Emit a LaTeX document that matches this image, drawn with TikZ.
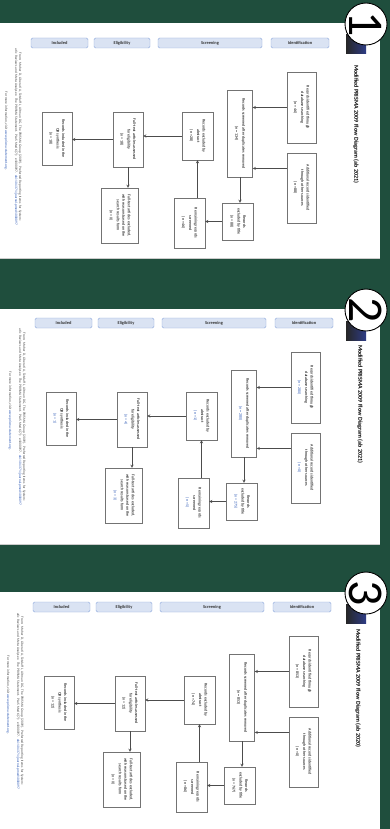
\documentclass[tikz,border=0pt]{standalone}
\usepackage{fontspec}
\setmainfont{Carlito}
\usetikzlibrary{arrows, positioning, calc}
\definecolor{slidegreen}{HTML}{1F4E3D}
\definecolor{phasefill}{HTML}{DAE3F3}
\definecolor{phaseline}{HTML}{8FAADC}
\definecolor{logonavy}{HTML}{2E3C86}
\definecolor{linkblue}{HTML}{2F5BB7}
\tikzstyle{arrow} = [->, >=stealth, line width=0.4pt, draw=black!70]
\tikzstyle{recbox} = [draw=black!55, line width=0.4pt, fill=white, rotate=-90, align=center, inner sep=1pt, font=\fontsize{4}{5.5}\selectfont]
\tikzstyle{phase} = [draw=phaseline, fill=phasefill, rounded corners=1.5pt, line width=0.4pt, minimum height=10, inner sep=0pt, font=\fontsize{4.4}{5}\selectfont\bfseries, text=black!80]
\tikzstyle{badge} = [circle, draw=black, line width=0.9pt, fill=white, minimum size=42, inner sep=0pt]
\tikzstyle{badgenum} = [rotate=-90, inner sep=0pt, font=\fontsize{50}{50}\selectfont]
\tikzstyle{slidetitle} = [rotate=-90, inner sep=0pt, font=\fontsize{6}{7}\selectfont\bfseries]
\tikzstyle{citation} = [rotate=-90, inner sep=0pt, align=center, text=black!70, font=\fontsize{3.5}{4}\selectfont]

\begin{document}
\begin{tikzpicture}[x=1pt, y=-1pt]
        \useasboundingbox (0,0) rectangle (390,829);
        \fill[slidegreen] (0,0) rectangle (390,829);

        % Three slides: white page top/bottom, content shift, badge, year, counts, count colour
        \foreach \wt/\wb/\dx/\dy/\num/\yr/\nA/\nB/\nC/\nD/\nE/\nF/\nG/\nH/\nI/\col in {
          23/258/0/0/1/2021/46/88/134/88/28/46/18/0/18/black,
          309/544/4/280/2/2021/280/0/280/275/1/5/4/3/1/linkblue,
          592/829/2/564/3/2020/853/0/853/767/74/86/12/0/12/black}{
          \fill[white] (0,\wt) rectangle (380,\wb);
          \draw[black!20] (0,\wb) -- (380,\wb);
          \shade[left color=black!85, right color=logonavy] (346,\wt+12) rectangle (366,\wt+31);
          \node[badge] (badge) at (366,\wt+1) {};
          \node[badgenum] at (badge.center) {\num};

          \begin{scope}[shift={(\dx,\dy)}]
            % Title and phases
            \node[slidetitle, anchor=west] (title) at (356,65) {Modified PRISMA 2009 Flow Diagram (ab \yr)};
            \node[phase, minimum width=57] (phIncl) at (59.5,43) {Included};
            \node[phase, minimum width=56] (phElig) at (122,43) {Eligibility};
            \node[phase, minimum width=104] (phScreen) at (210,43) {Screening};
            \node[phase, minimum width=58] (phIdent) at (300,43) {Identification};

            % Records
            \node[recbox, minimum width=71, minimum height=29] (identified) at (301.5,107.5)
              {Records identified through\\database searching\\[1.5pt]{\color{\col}(n = \nA)}};
            \node[recbox, minimum width=70, minimum height=29] (additional) at (301.5,188)
              {Additional records identified\\through other sources\\[1.5pt]{\color{\col}(n = \nB)}};
            \node[recbox, minimum width=87, minimum height=25] (screened) at (240,133.5)
              {Records screened after duplicates removed\\[1.5pt]{\color{\col}(n = \nC)}};
            \node[recbox, minimum width=37, minimum height=31] (extitle) at (238,221.5)
              {Records\\excluded by title\\[1.5pt]{\color{\col}(n = \nD)}};
            \node[recbox, minimum width=48, minimum height=31] (exabstract) at (197.5,136)
              {Records excluded by\\abstract\\[1.5pt]{\color{\col}(n = \nE)}};
            \node[recbox, minimum width=50, minimum height=31] (remaining) at (189.5,223)
              {Remaining records\\screened\\[1.5pt]{\color{\col}(n = \nF)}};
            \node[recbox, minimum width=55, minimum height=30] (assessed) at (128,139.5)
              {Full-text articles assessed\\for eligibility\\[1.5pt]{\color{\col}(n = \nG)}};
            \node[recbox, minimum width=55, minimum height=37] (exfull) at (120,215.5)
              {Full-text articles excluded,\\with reasons based on the\\search results form\\[1.5pt]{\color{\col}(n = \nH)}};
            \node[recbox, minimum width=53, minimum height=30] (synthesis) at (57,138.5)
              {Records included in the\\QR synthesis\\[1.5pt]{\color{\col}(n = \nI)}};

            % Flow
            \coordinate (screenedin) at ($(screened.north east)!0.1!(screened.north west)$);
            \draw[arrow] (identified.south) -- (identified.south -| screened.north);
            \draw[arrow] (additional.south |- screenedin) -- (screenedin);
            \draw[arrow] (screened.east) -- (screened.east |- extitle.west);
            \draw[arrow] (extitle.south) -- (extitle.south -| remaining.north);
            \draw[arrow] (exabstract.east |- remaining.west) -- (exabstract.east);
            \draw[arrow] (exabstract.south) -- (exabstract.south -| assessed.north);
            \draw[arrow] (assessed.south) -- (assessed.south -| synthesis.north);
            \draw[arrow] (assessed.east) -- (assessed.east |- exfull.west);

            % Source note
            \node[citation, text width=196] (cite) at (18,137)
              {From: Moher D, Liberati A, Tetzlaff J, Altman DG, The PRISMA Group (2009). Preferred Reporting Items for Systematic Reviews and Meta-Analyses: The PRISMA Statement. PLoS Med 6(7): e1000097. {\color{linkblue}doi:10.1371/journal.pmed1000097}};
            \node[citation] (moreinfo) at (6,131)
              {For more information, visit {\color{linkblue}www.prisma-statement.org}.};
          \end{scope}
        }
      \end{tikzpicture}
\end{document}
